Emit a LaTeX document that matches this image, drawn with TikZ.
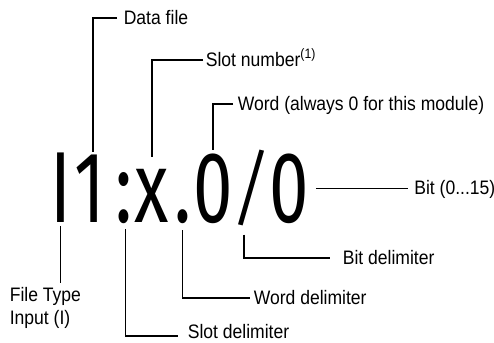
\documentclass[tikz,border=0pt]{standalone}
\usepackage{fontspec}
\setmainfont{Liberation Sans}
\newfontfamily\bigfont[FakeStretch=0.7]{Fira Sans}
\newfontfamily\slashfont[FakeStretch=1.1]{Fira Sans Light}
\newfontfamily\lblfont[FakeStretch=0.9]{Liberation Sans}
\usetikzlibrary{positioning}

\begin{document}
\begin{tikzpicture}[x=1pt,y=-1pt,line width=1.6pt,
        big/.style={anchor=base,inner sep=0pt,font=\bigfont\fontsize{101}{103}\selectfont},
        lbl/.style={inner sep=0pt,font=\lblfont\fontsize{19.5}{23}\selectfont},
        tag/.style={lbl,anchor=west,text height=13pt,text depth=0pt}]
        \useasboundingbox (0,0) rectangle (494,342);
        \node (i) [big] at (60.5,222) {I};
        \node (one) [big] at (90,222) {1};
        \node (colon) [big] at (124,222) {:};
        \node (x) [big] at (152,222) {x};
        \node (dot) [big] at (182.5,222) {.};
        \node (zero) [big] at (213,222) {0};
        \node (slash) [anchor=base,inner sep=0pt,font=\slashfont\fontsize{84}{86}\selectfont] at (252,217.5) {\makebox[27pt]{/}};
        \node (zerob) [big] at (289,222) {0};

        \node (datafile) [tag] at (123,18) {Data file};
        \node (slotnum) [tag] at (205,60) {Slot number\textsuperscript{(1)}};
        \node (word) [tag] at (237,104) {Word (always 0 for this module)};
        \node (bit) [tag,right=104pt of zerob] {Bit (0...15)};
        \node (bitdel) [tag] at (342,258) {Bit delimiter};
        \node (worddel) [tag] at (253,298) {Word delimiter};
        \node (slotdel) [tag] at (187,331.5) {Slot delimiter};
        \node (filetype) [lbl,anchor=north west,align=left,inner ysep=4pt] at (9,283) {File Type\\Input (I)};

        \draw ([xshift=-6pt]datafile.west) -| ([xshift=3pt,yshift=2pt]one.north);
        \draw ([xshift=-2pt]slotnum.west) -| ([yshift=11pt]x.north);
        \draw ([xshift=-4pt]word.west) -| ([yshift=3pt]zero.north);
        \draw ([xshift=6.4pt]zerob.east) -- ([xshift=-6pt]bit.west);
        \draw ([xshift=-8pt,yshift=-8pt]slash.south) |- ([xshift=-12pt]bitdel.west);
        \draw ([yshift=-6pt]dot.south) |- ([xshift=-3pt]worddel.west);
        \draw ([xshift=1.5pt,yshift=-5pt]colon.south) |- ([xshift=-9pt,yshift=-4.5pt]slotdel.west);
        \draw ([yshift=-3pt]i.south) -- (i.south |- filetype.north);
    \end{tikzpicture}
\end{document}
